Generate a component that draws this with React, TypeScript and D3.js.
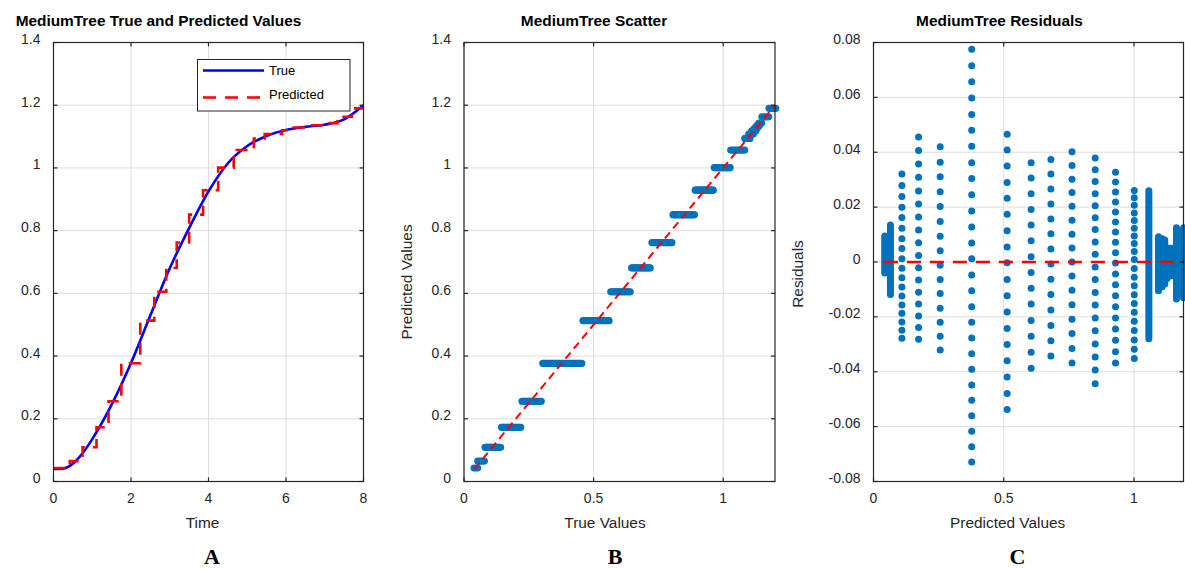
import React from 'react';
import * as d3 from 'd3';

// ---------- Panel A data ----------
const timeValues = [0, 0.25, 0.5, 0.75, 1, 1.5, 2, 2.5, 3, 3.5, 4, 4.5, 5, 5.5, 6, 6.5, 7, 7.5, 8];
const trueValues = [0.040, 0.041, 0.057, 0.090, 0.135, 0.245, 0.378, 0.530, 0.680, 0.808, 0.925, 1.015, 1.070, 1.102, 1.121, 1.131, 1.138, 1.155, 1.200];
const stepTimes = [0, 0.42, 0.75, 1.11, 1.42, 1.75, 2.24, 2.6, 2.91, 3.18, 3.5, 3.86, 4.25, 4.65, 5.17, 5.45, 5.9, 6.2, 6.55, 7.0, 7.33, 7.7, 8];
const stepLevels = [0.043, 0.065, 0.109, 0.173, 0.256, 0.377, 0.513, 0.605, 0.681, 0.762, 0.851, 0.929, 1.001, 1.057, 1.094, 1.108, 1.120, 1.129, 1.136, 1.143, 1.163, 1.190, 1.190];

// ---------- Panels B / C data (predicted level + residuals of its samples) ----------
const dotPredicted = [0.109, 0.173, 0.256, 0.377, 0.513, 0.605, 0.681, 0.762, 0.851, 0.929, 1.001];
const dotResiduals = [
  [0.0321, 0.0279, 0.0239, 0.0200, 0.0162, 0.0123, 0.0085, 0.0049, 0.0012, -0.0023, -0.0057, -0.0091, -0.0124, -0.0157, -0.0187, -0.0219, -0.0249, -0.0278],
  [0.0456, 0.0406, 0.0357, 0.0309, 0.0259, 0.0211, 0.0164, 0.0117, 0.0070, 0.0024, -0.0021, -0.0066, -0.0110, -0.0153, -0.0197, -0.0239, -0.0282],
  [0.0420, 0.0364, 0.0311, 0.0256, 0.0202, 0.0148, 0.0094, 0.0041, -0.0012, -0.0064, -0.0115, -0.0169, -0.0220, -0.0271, -0.0321],
  [0.0775, 0.0715, 0.0657, 0.0598, 0.0538, 0.0480, 0.0422, 0.0362, 0.0304, 0.0245, 0.0186, 0.0128, 0.0069, 0.0012, -0.0047, -0.0105, -0.0163, -0.0220, -0.0277, -0.0334, -0.0391, -0.0448, -0.0504, -0.0560, -0.0617, -0.0673, -0.0729],
  [0.0466, 0.0408, 0.0350, 0.0290, 0.0232, 0.0174, 0.0114, 0.0055, -0.0003, -0.0064, -0.0123, -0.0182, -0.0242, -0.0301, -0.0360, -0.0419, -0.0479, -0.0538],
  [0.0362, 0.0306, 0.0249, 0.0191, 0.0135, 0.0077, 0.0019, -0.0038, -0.0096, -0.0153, -0.0213, -0.0271, -0.0329, -0.0387],
  [0.0374, 0.0321, 0.0266, 0.0211, 0.0157, 0.0103, 0.0047, -0.0007, -0.0063, -0.0118, -0.0175, -0.0231, -0.0287, -0.0343],
  [0.0402, 0.0352, 0.0302, 0.0253, 0.0203, 0.0152, 0.0101, 0.0051, 0.0000, -0.0051, -0.0103, -0.0156, -0.0209, -0.0261, -0.0315, -0.0368],
  [0.0379, 0.0336, 0.0293, 0.0249, 0.0205, 0.0161, 0.0118, 0.0073, 0.0028, -0.0018, -0.0064, -0.0111, -0.0157, -0.0204, -0.0251, -0.0299, -0.0346, -0.0394, -0.0444],
  [0.0327, 0.0292, 0.0255, 0.0219, 0.0182, 0.0146, 0.0109, 0.0072, 0.0034, -0.0004, -0.0044, -0.0083, -0.0123, -0.0163, -0.0204, -0.0244, -0.0285, -0.0327, -0.0368],
  [0.0261, 0.0234, 0.0207, 0.0179, 0.0151, 0.0123, 0.0095, 0.0067, 0.0038, 0.0009, -0.0024, -0.0056, -0.0087, -0.0119, -0.0151, -0.0183, -0.0216, -0.0250, -0.0284, -0.0318, -0.0352],
];
// densely sampled levels (markers merge into bars)
const densePredicted = [0.043, 0.065, 1.057, 1.094, 1.108, 1.118, 1.127, 1.135, 1.143, 1.163, 1.190];
const denseResMax = [0.0095, 0.0135, 0.026, 0.0092, 0.0085, 0.008, 0.005, 0.005, 0.005, 0.0125, 0.0125];
const denseResMin = [-0.004, -0.0118, -0.028, -0.0105, -0.009, -0.008, -0.006, -0.005, -0.005, -0.0135, -0.013];
const refLineEnds = [0.04, 1.2];

// ---------- ticks ----------
const timeTicks = [0, 2, 4, 6, 8];
const valueTicks = [0, 0.2, 0.4, 0.6, 0.8, 1, 1.2, 1.4];
const unitTicks = [0, 0.5, 1];
const residualTicks = [-0.08, -0.06, -0.04, -0.02, 0, 0.02, 0.04, 0.06, 0.08];

const FONT = '"Liberation Sans", Arial, Helvetica, sans-serif';
const SERIF = '"Liberation Serif", "Times New Roman", serif';
const AXIS = '#262626';
const GRID = '#dedede';
const DOT = '#0072BD';
const fmt = (v: number) => String(Math.round(v * 100) / 100);

type Sc = d3.ScaleLinear<number, number>;

function Grid({ x, y, xTicks, yTicks }: { x: Sc; y: Sc; xTicks: number[]; yTicks: number[] }) {
  const [x0, x1] = x.range();
  const [y0, y1] = y.range();
  return (
    <g>
      {xTicks.map((t) => (
        <line key={'gx' + t} x1={x(t)} x2={x(t)} y1={y0} y2={y1} stroke={GRID} strokeWidth={1} />
      ))}
      {yTicks.map((t) => (
        <line key={'gy' + t} x1={x0} x2={x1} y1={y(t)} y2={y(t)} stroke={GRID} strokeWidth={1} />
      ))}
    </g>
  );
}

function Box({ x, y, xTicks, yTicks }: { x: Sc; y: Sc; xTicks: number[]; yTicks: number[] }) {
  const [x0, x1] = x.range();
  const [y0, y1] = y.range();
  const tl = 4;
  return (
    <g>
      <rect x={x0} y={y1} width={x1 - x0} height={y0 - y1} fill="none" stroke={AXIS} strokeWidth={1.2} />
      {xTicks.map((t) => (
        <g key={'tx' + t}>
          <line x1={x(t)} x2={x(t)} y1={y0} y2={y0 - tl} stroke={AXIS} strokeWidth={1.2} />
          <line x1={x(t)} x2={x(t)} y1={y1} y2={y1 + tl} stroke={AXIS} strokeWidth={1.2} />
          <text x={x(t)} y={y0 + 21} textAnchor="middle" fontSize={14} fill={AXIS} fontFamily={FONT}>
            {fmt(t)}
          </text>
        </g>
      ))}
      {yTicks.map((t) => (
        <g key={'ty' + t}>
          <line x1={x0} x2={x0 + tl} y1={y(t)} y2={y(t)} stroke={AXIS} strokeWidth={1.2} />
          <line x1={x1} x2={x1 - tl} y1={y(t)} y2={y(t)} stroke={AXIS} strokeWidth={1.2} />
          <text x={x0 - 13} y={y(t) + 1.5} textAnchor="end" fontSize={14} fill={AXIS} fontFamily={FONT}>
            {fmt(t)}
          </text>
        </g>
      ))}
    </g>
  );
}

export default function App() {
  // Panel A
  const xA = d3.scaleLinear().domain([0, 8]).range([53.5, 363.5]);
  const yA = d3.scaleLinear().domain([0, 1.4]).range([481.5, 42.5]);
  const trueLine = d3
    .line<number>()
    .x((_, i) => xA(timeValues[i]))
    .y((d) => yA(d))
    .curve(d3.curveMonotoneX)(trueValues) as string;
  const predLine = d3
    .line<number>()
    .x((_, i) => xA(stepTimes[i]))
    .y((d) => yA(d))
    .curve(d3.curveStepAfter)(stepLevels) as string;

  // Panel B
  const xB = d3.scaleLinear().domain([0, 1.2]).range([464, 775]);
  const yB = d3.scaleLinear().domain([0, 1.4]).range([481.5, 42.5]);

  // Panel C
  const xC = d3.scaleLinear().domain([0, 1.19]).range([873.5, 1183.5]);
  const yC = d3.scaleLinear().domain([-0.08, 0.08]).range([481.5, 42.5]);

  return (
    <svg width={1185} height={569} style={{ position: 'absolute', left: 0, top: 0, background: '#fff' }}>
      <rect x={0} y={0} width={1185} height={569} fill="#fff" />

      {/* ---------- Panel A ---------- */}
      <Grid x={xA} y={yA} xTicks={timeTicks} yTicks={valueTicks} />
      <path d={trueLine} fill="none" stroke="#0000ff" strokeWidth={2.6} />
      <path d={predLine} fill="none" stroke="#ff0000" strokeWidth={2.6} strokeDasharray="12 8" />
      <Box x={xA} y={yA} xTicks={timeTicks} yTicks={valueTicks} />
      <g>
        <rect x={197.5} y={59.5} width={152.5} height={51.5} fill="#fff" stroke={AXIS} strokeWidth={1} />
        <line x1={203} x2={264} y1={70.5} y2={70.5} stroke="#0000ff" strokeWidth={2.6} />
        <text x={269} y={75} fontSize={13} fontFamily={FONT} fill="#000">True</text>
        <line x1={203} x2={264} y1={97.5} y2={97.5} stroke="#ff0000" strokeWidth={2.6} strokeDasharray="13 9" />
        <text x={269} y={98.5} fontSize={13} fontFamily={FONT} fill="#000">Predicted</text>
      </g>
      <text x={158.5} y={25.5} textAnchor="middle" fontSize={15.4} fontWeight="bold" fontFamily={FONT} fill="#000">
        MediumTree True and Predicted Values
      </text>
      <text x={202.5} y={527.5} textAnchor="middle" fontSize={15.4} fontFamily={FONT} fill={AXIS}>Time</text>
      <text x={212} y={564} textAnchor="middle" fontSize={22} fontWeight="bold" fontFamily={SERIF} fill="#000">A</text>

      {/* ---------- Panel B ---------- */}
      <Grid x={xB} y={yB} xTicks={unitTicks} yTicks={valueTicks} />
      <g fill={DOT}>
        {dotPredicted.map((p, i) =>
          dotResiduals[i].map((r, j) => <circle key={`b${i}-${j}`} cx={xB(p + r)} cy={yB(p)} r={3.6} />)
        )}
      </g>
      <g stroke={DOT} strokeWidth={7.2} strokeLinecap="round">
        {densePredicted.map((p, i) => (
          <line key={'bd' + i} x1={xB(p + denseResMin[i])} x2={xB(p + denseResMax[i])} y1={yB(p)} y2={yB(p)} />
        ))}
      </g>
      <line x1={xB(refLineEnds[0])} y1={yB(refLineEnds[0])} x2={xB(refLineEnds[1])} y2={yB(refLineEnds[1])}
        stroke="#ff0000" strokeWidth={2} strokeDasharray="8 5" />
      <Box x={xB} y={yB} xTicks={unitTicks} yTicks={valueTicks} />
      <text x={594} y={25.5} textAnchor="middle" fontSize={15.4} fontWeight="bold" fontFamily={FONT} fill="#000">
        MediumTree Scatter
      </text>
      <text x={605} y={528} textAnchor="middle" fontSize={15.4} fontFamily={FONT} fill={AXIS}>True Values</text>
      <text transform="translate(411.5,282) rotate(-90)" textAnchor="middle" fontSize={15.4} fontFamily={FONT} fill={AXIS}>
        Predicted Values
      </text>
      <text x={615} y={564} textAnchor="middle" fontSize={22} fontWeight="bold" fontFamily={SERIF} fill="#000">B</text>

      {/* ---------- Panel C ---------- */}
      <Grid x={xC} y={yC} xTicks={unitTicks} yTicks={residualTicks} />
      <g fill={DOT}>
        {dotPredicted.map((p, i) =>
          dotResiduals[i].map((r, j) => <circle key={`c${i}-${j}`} cx={xC(p)} cy={yC(r)} r={3.5} />)
        )}
      </g>
      <g stroke={DOT} strokeWidth={7} strokeLinecap="round">
        {densePredicted.map((p, i) => (
          <line key={'cd' + i} x1={xC(p)} x2={xC(p)} y1={yC(denseResMin[i])} y2={yC(denseResMax[i])} />
        ))}
      </g>
      <line x1={xC(refLineEnds[0])} x2={xC(1.19)} y1={yC(0)} y2={yC(0)} stroke="#ff0000" strokeWidth={2.4} strokeDasharray="14 9" />
      <Box x={xC} y={yC} xTicks={unitTicks} yTicks={residualTicks} />
      <text x={999.5} y={25.5} textAnchor="middle" fontSize={15.4} fontWeight="bold" fontFamily={FONT} fill="#000">
        MediumTree Residuals
      </text>
      <text x={1007.7} y={528} textAnchor="middle" fontSize={15.4} fontFamily={FONT} fill={AXIS}>Predicted Values</text>
      <text transform="translate(803,274) rotate(-90)" textAnchor="middle" fontSize={15.4} fontFamily={FONT} fill={AXIS}>
        Residuals
      </text>
      <text x={1017.5} y={564} textAnchor="middle" fontSize={22} fontWeight="bold" fontFamily={SERIF} fill="#000">C</text>
    </svg>
  );
}
